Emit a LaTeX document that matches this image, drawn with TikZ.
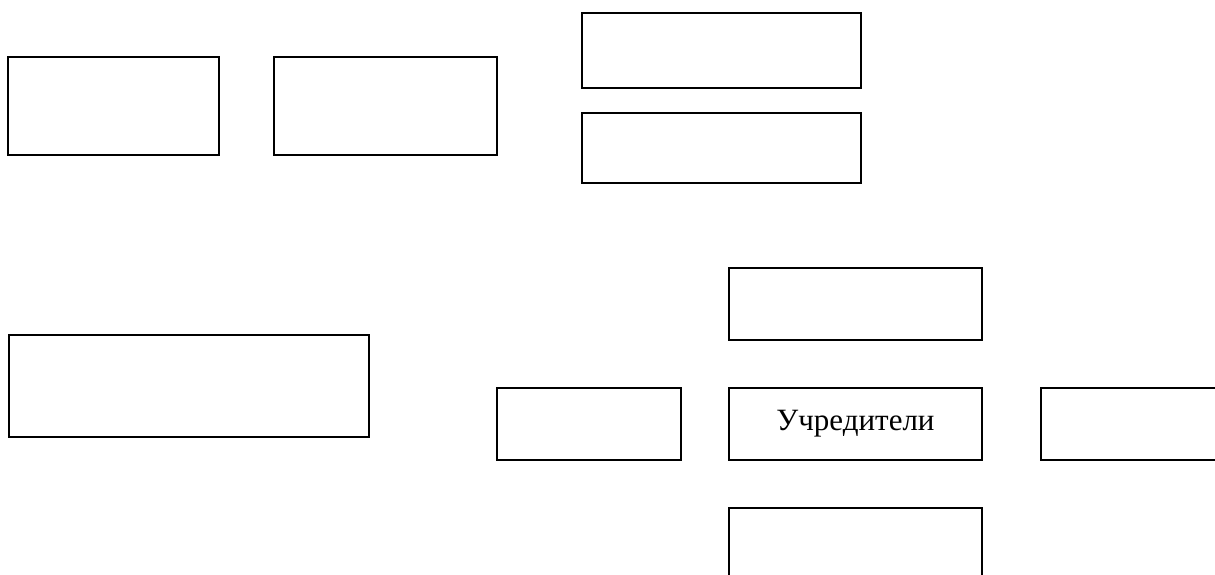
\documentclass[tikz,border=0pt]{standalone}
\usepackage{fontspec}
\setmainfont{Liberation Serif}
\usetikzlibrary{positioning}
\tikzset{
  blank/.style ={draw=black, line width=1.8pt, inner sep=0pt, outer sep=0pt,
                 font=\fontsize{31}{37}\selectfont},
  wide/.style  ={blank, minimum width=253pt, minimum height=72pt},
  short/.style ={blank, minimum width=184pt, minimum height=72pt},
}

\begin{document}
\begin{tikzpicture}[x=1pt, y=-1pt, node distance=48pt]
\clip (0,0) rectangle (1215,574);

% ---- top row ----
\node[blank, minimum width=211pt, minimum height=98pt] (topa) at (113.5,106) {};
\node[blank, minimum width=223pt, minimum height=98pt] (topb) at (385.5,106) {};
\node[blank, minimum width=279pt, minimum height=75pt] (stacka) at (721.5,50.5) {};
\node[blank, minimum width=279pt, minimum height=70pt, below=25pt of stacka] (stackb) {};

% ---- left box ----
\node[blank, minimum width=360pt, minimum height=102pt] (leftbig) at (189,386) {};

% ---- founders and around ----
\node[wide] (founders) at (855.5,424) {Учредители};
\node[wide, above=of founders] (fndup) {};
\node[wide, below=of founders] (fnddown) {};
\node[short, left=of founders] (fndleft) {};
\node[short, right=59pt of founders, minimum width=185pt] (fndright) {};

\end{tikzpicture}
\end{document}
